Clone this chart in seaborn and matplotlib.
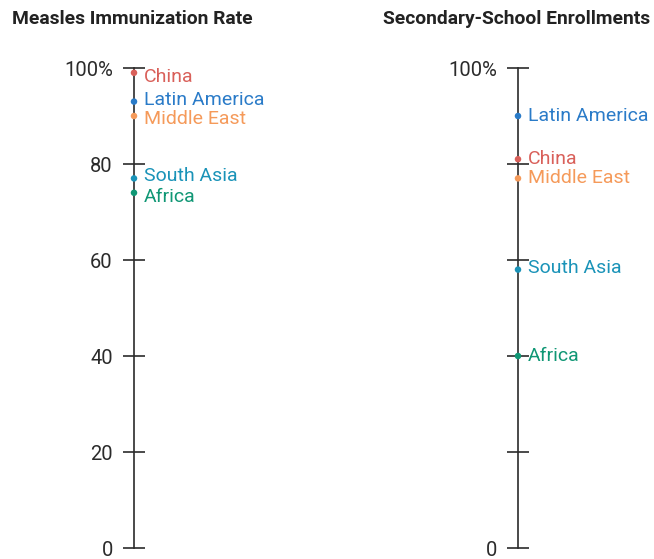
import matplotlib
matplotlib.use("Agg")
import matplotlib.pyplot as plt
import seaborn as sns
import pandas as pd

sns.set_style("white")
plt.rcParams["font.family"] = ["Roboto", "DejaVu Sans"]

regions = ["China", "Latin America", "Middle East", "South Asia", "Africa"]
colors = ["#d9605a", "#2a7bc8", "#f59a5a", "#1a93b8", "#109775"]
measles = [99, 93, 90, 77, 74]
enrollment = [81, 90, 77, 58, 40]
ticks = [0, 20, 40, 60, 80, 100]
left_ticklabels = ["0", "20", "40", "60", "80", "100%"]
right_ticklabels = ["0", "", "", "", "", "100%"]

# vertical nudges (points) so neighbouring labels don't collide
measles_nudge = [-3, 1, -2, 2, -3]
enroll_nudge = [0, 0, 0, 1, 0]

W, H = 654, 559
fig = plt.figure(figsize=(W / 100, H / 100), dpi=100)

def panel(x_px, values, tick_labels, nudges, title, title_x, title_ha):
    ax = fig.add_axes([x_px / W, (H - 548) / H, 120 / W, 480 / H])
    df = pd.DataFrame({"region": regions, "value": values, "x": [0] * len(values)})
    sns.scatterplot(data=df, x="x", y="value", hue="region", palette=colors,
                    hue_order=regions, s=22, edgecolor="none", legend=False,
                    ax=ax, clip_on=False, zorder=5)
    ax.set_xlim(0, 1)
    ax.set_ylim(0, 100)
    for s in ["top", "right", "bottom"]:
        ax.spines[s].set_visible(False)
    ax.spines["left"].set_color("#2b2b2b")
    ax.spines["left"].set_linewidth(1.2)
    ax.set_xticks([])
    ax.set_yticks(ticks)
    ax.set_yticklabels(tick_labels)
    ax.tick_params(axis="y", left=True, direction="inout", length=16.5, width=1.2,
                   color="#2b2b2b", labelsize=14.5, labelcolor="#2b2b2b", pad=7)
    ax.set_xlabel("")
    ax.set_ylabel("")
    ax.patch.set_alpha(0)
    for name, v, c, dy in zip(regions, values, colors, nudges):
        ax.annotate(name, xy=(0, v), xytext=(7, dy), textcoords="offset points",
                    ha="left", va="center", color=c, fontsize=14)
    fig.text(title_x / W, 1 - 19 / H, title, ha=title_ha, va="center",
             fontsize=13.9, fontweight="bold", color="#222222")

panel(134, measles, left_ticklabels, measles_nudge,
      "Measles Immunization Rate", 12, "left")
panel(518, enrollment, right_ticklabels, enroll_nudge,
      "Secondary-School Enrollments", 650, "right")

fig.savefig("out.png", dpi=100)
